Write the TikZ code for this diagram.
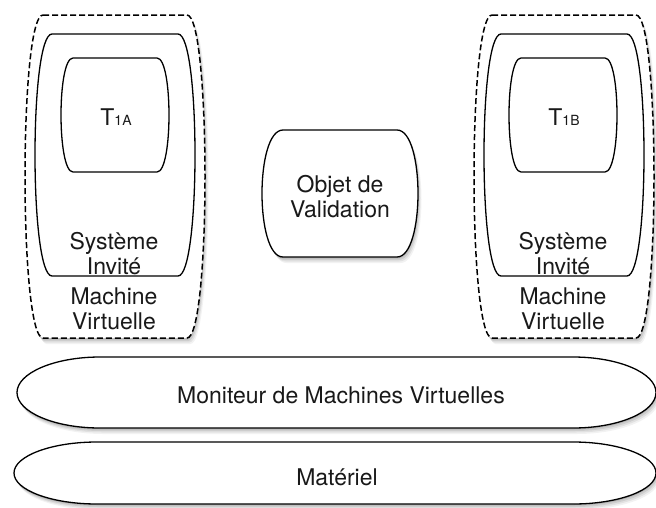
\documentclass[tikz,border=0pt]{standalone}
\usepackage{fontspec}
\setmainfont{TeX Gyre Heros}
\usetikzlibrary{shadows}
% straight top/bottom, sides bulging as one smooth arc (barrel)
\newcommand\barrel[5]{%
 (#1,#3) -- (#2,#3)
 .. controls ({#2+4*#5/3},#3) and ({#2+4*#5/3},#4) .. (#2,#4)
 -- (#1,#4)
 .. controls ({#1-4*#5/3},#4) and ({#1-4*#5/3},#3) .. cycle}
% straight top/bottom, elliptic ends
\newcommand\bulge[5]{%
 (#1,#3) -- (#2,#3)
 .. controls ({#2+0.55*#5},#3) and ({#2+#5},{(#3+#4)/2-0.55*(#4-#3)/2}) .. ({#2+#5},{(#3+#4)/2})
 .. controls ({#2+#5},{(#3+#4)/2+0.55*(#4-#3)/2}) and ({#2+0.55*#5},#4) .. (#2,#4)
 -- (#1,#4)
 .. controls ({#1-0.55*#5},#4) and ({#1-#5},{(#3+#4)/2+0.55*(#4-#3)/2}) .. ({#1-#5},{(#3+#4)/2})
 .. controls ({#1-#5},{(#3+#4)/2-0.55*(#4-#3)/2}) and ({#1-0.55*#5},#3) .. cycle}
\tikzset{
  softshadow/.style={
    drop shadow={shadow xshift=0.5pt,shadow yshift=-1.5pt,opacity=0.10,fill=black},
    drop shadow={shadow xshift=1.5pt,shadow yshift=-3pt,opacity=0.09,fill=black},
    drop shadow={shadow xshift=2.5pt,shadow yshift=-4.5pt,opacity=0.07,fill=black},
    drop shadow={shadow xshift=3.5pt,shadow yshift=-6pt,opacity=0.05,fill=black}},
  solidbox/.style={draw=black,line width=1.3pt,fill=white},
  vmbox/.style={draw=black,line width=1.5pt,fill=white,dash pattern=on 6pt off 3pt},
  lbl/.style={anchor=base,inner sep=0pt,font=\fontsize{23}{25}\selectfont,text=black!90}
}
\newcommand\Tsub[1]{T{\fontsize{14}{14}\selectfont #1}}
\begin{document}
\begin{tikzpicture}[x=1pt,y=-1pt]
\useasboundingbox (0,0) rectangle (656,507);
% left VM
\draw[vmbox,softshadow] \barrel{43}{187}{15}{338}{18};
\draw[solidbox] \barrel{52}{178}{34}{276}{17};
\draw[solidbox] \barrel{73}{157}{58}{172}{12};
% right VM
\draw[vmbox,softshadow] \barrel{492}{636}{15}{338}{18};
\draw[solidbox] \barrel{501}{627}{34}{276}{17};
\draw[solidbox] \barrel{521}{605}{58}{172}{12};
% validation object
\draw[solidbox,softshadow] \barrel{283}{397}{130}{257}{21};
% monitor and hardware
\draw[solidbox,softshadow] \bulge{100}{573}{357}{428}{83};
\draw[solidbox,softshadow] \bulge{97}{573}{442}{504}{83};
% texts
\node[lbl] (ta) at (116,125) {\Tsub{1A}};
\node[lbl] (sa1) at (114,249) {Système};
\node[lbl] (sa2) at (114,274) {Invité};
\node[lbl] (ma1) at (114,304) {Machine};
\node[lbl] (ma2) at (114,329) {Virtuelle};
\node[lbl] (tb) at (564,125) {\Tsub{1B}};
\node[lbl] (sb1) at (563,249) {Système};
\node[lbl] (sb2) at (563,274) {Invité};
\node[lbl] (mb1) at (563,304) {Machine};
\node[lbl] (mb2) at (563,329) {Virtuelle};
\node[lbl] (ov1) at (340,192) {Objet de};
\node[lbl] (ov2) at (340,217) {Validation};
\node[lbl] (mvm) at (341,403) {Moniteur de Machines Virtuelles};
\node[lbl] (hw) at (337,485) {Matériel};
\end{tikzpicture}
\end{document}
